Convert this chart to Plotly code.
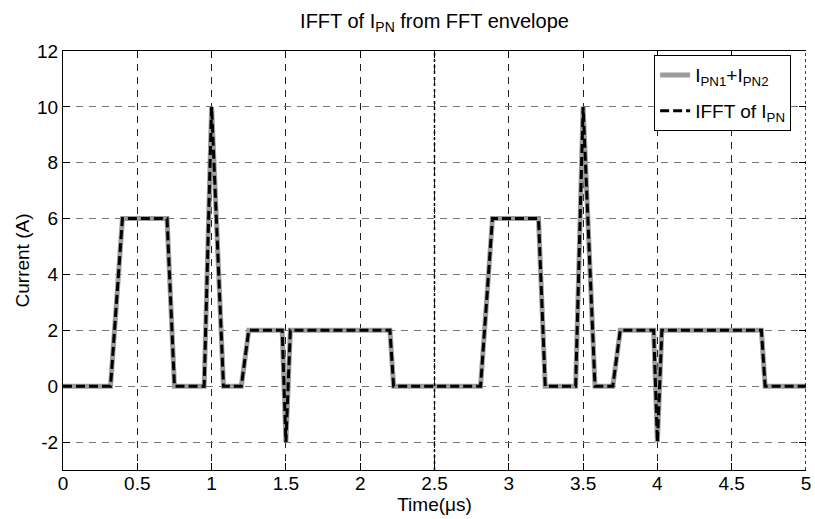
import plotly.graph_objects as go

# Time (us) and current (A) breakpoints
t_sum = [0, 0.32, 0.40, 0.70, 0.75, 0.95, 1.00, 1.08, 1.20, 1.25, 1.475, 1.50, 1.53,
         2.20, 2.225, 2.81, 2.89, 3.20, 3.245, 3.45, 3.50, 3.58, 3.70, 3.75, 3.975,
         4.00, 4.03, 4.70, 4.725, 5.0]
i_sum = [0, 0, 6, 6, 0, 0, 10, 0, 0, 2, 2, -2, 2,
         2, 0, 0, 6, 6, 0, 0, 10, 0, 0, 2, 2,
         -2, 2, 2, 0, 0]

t_ifft = [0, 0.32, 0.40, 0.70, 0.75, 0.95, 1.00, 1.08, 1.20, 1.25, 1.475, 1.50, 1.53,
          2.20, 2.225, 2.81, 2.89, 3.20, 3.245, 3.45, 3.50, 3.58, 3.70, 3.75, 3.975,
          4.00, 4.03, 4.70, 4.725, 5.0]
i_ifft = [0, 0, 6, 6, 0, 0, 10, 0, 0, 2, 2, -2, 2,
          2, 0, 0, 6, 6, 0, 0, 10, 0, 0, 2, 2,
          -2, 2, 2, 0, 0]

period_marks = [2.5, 5.0]

x_ticks = [0, 0.5, 1, 1.5, 2, 2.5, 3, 3.5, 4, 4.5, 5]
x_tick_text = ["0", "0.5", "1", "1.5", "2", "2.5", "3", "3.5", "4", "4.5", "5"]
y_ticks = [-2, 0, 2, 4, 6, 8, 10, 12]
y_tick_text = ["-2", "0", "2", "4", "6", "8", "10", "12"]

FONT = "Liberation Sans, Arial, sans-serif"

W, H = 815, 519

fig = go.Figure()
fig.add_trace(go.Scatter(
    x=t_sum, y=i_sum, mode="lines",
    name="I<sub>PN1</sub>+I<sub>PN2</sub>", legendgroup="a",
    line=dict(color="#9c9c9c", width=5),
))
fig.add_trace(go.Scatter(
    x=t_ifft, y=i_ifft, mode="lines",
    name="IFFT of I<sub>PN</sub>", legendgroup="b",
    line=dict(color="#000000", width=3, dash="9px,4px"),
))
# invisible trace to give a right-side tick axis
fig.add_trace(go.Scatter(x=[0], y=[0], yaxis="y2", mode="lines",
                         line=dict(width=0), showlegend=False, hoverinfo="skip"))

for xm in period_marks:
    fig.add_shape(type="line", xref="x", yref="paper", x0=xm, x1=xm, y0=0, y1=1,
                  line=dict(color="black", width=1.5, dash="dot"), layer="above")

fig.update_layout(
    width=W, height=H,
    margin=dict(l=63, r=9, t=51, b=49),
    paper_bgcolor="white", plot_bgcolor="white",
    font=dict(family=FONT, size=19, color="black"),
    title=dict(text="IFFT of I<sub>PN</sub> from FFT envelope",
               x=0.5, xref="paper", y=1 - 21 / H, yref="container",
               xanchor="center", yanchor="middle",
               font=dict(family=FONT, size=20)),
    xaxis=dict(range=[0, 5], tickvals=x_ticks, ticktext=x_tick_text,
               showgrid=True, gridcolor="#222222", gridwidth=1, griddash="7px,6px",
               zeroline=False, showline=True, linecolor="black", linewidth=1,
               mirror="ticks", ticks="inside", ticklen=7, tickcolor="black",
               tickfont=dict(size=19), ticklabelstandoff=-4,
               ticklabeloverflow="allow",
               title=dict(text="Time(\u03bcs)", standoff=0, font=dict(size=19)),
               automargin=False),
    yaxis=dict(range=[-3, 12], tickvals=y_ticks, ticktext=y_tick_text,
               showgrid=True, gridcolor="#777777", gridwidth=1, griddash="7px,6px",
               zeroline=False, showline=True, linecolor="black", linewidth=1,
               mirror=False, ticks="inside", ticklen=7, tickcolor="black",
               tickfont=dict(size=19),
               title=dict(text="Current (A)", standoff=2, font=dict(size=19)),
               automargin=False),
    yaxis2=dict(range=[-3, 12], tickvals=y_ticks, overlaying="y", side="right",
                showgrid=False, zeroline=False, showline=False,
                ticks="inside", ticklen=7, tickcolor="black",
                showticklabels=False),
    legend=dict(x=0.98, y=0.99, xanchor="right", yanchor="top",
                bgcolor="white", bordercolor="black", borderwidth=1,
                font=dict(family=FONT, size=19), traceorder="grouped",
                tracegroupgap=8, itemwidth=30),
    showlegend=True,
)

fig.write_html(
    "out.html",
    config={"displayModeBar": False},
    post_script="document.body.style.margin='0';document.body.style.overflow='hidden';",
)
